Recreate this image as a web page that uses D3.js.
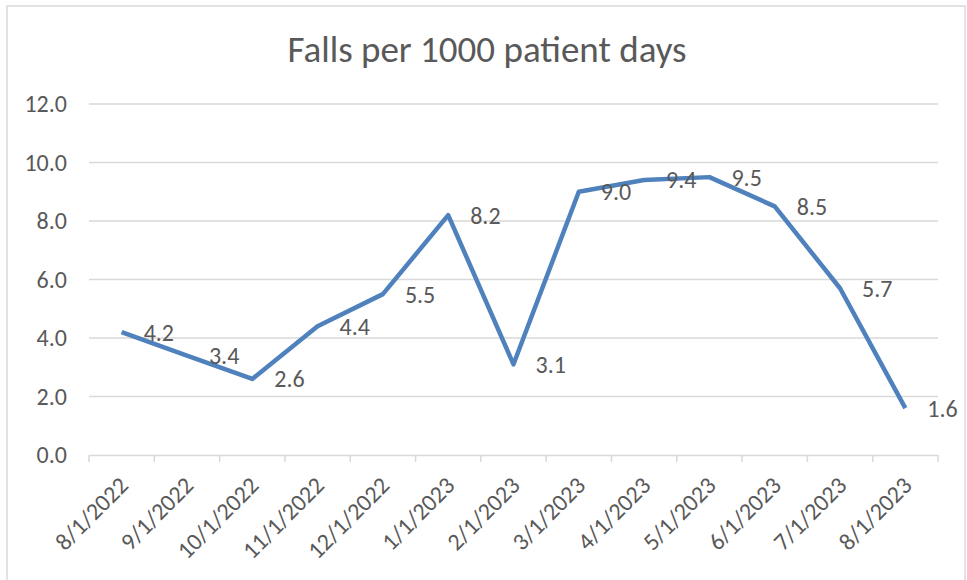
<html>
<head>
<title>falls</title>
<script type="text/javascript" src="https://cdnjs.cloudflare.com/ajax/libs/d3/7.8.5/d3.min.js"></script>
<style>
	body { margin:0px; padding:0px; background:#fff; overflow:hidden; }
	text { font-family: Calibri, Carlito, Lato, sans-serif; fill:#595959; }
</style>
</head>
<body>
<svg id="chart" width="967" height="580"></svg>
<script type="text/javascript">

var months = ['8/1/2022','9/1/2022','10/1/2022','11/1/2022','12/1/2022','1/1/2023','2/1/2023',
	'3/1/2023','4/1/2023','5/1/2023','6/1/2023','7/1/2023','8/1/2023'];
var falls = [4.2, 3.4, 2.6, 4.4, 5.5, 8.2, 3.1, 9.0, 9.4, 9.5, 8.5, 5.7, 1.6];
var yTicks = [0, 2, 4, 6, 8, 10, 12];
var title = 'Falls per 1000 patient days';

var svg = d3.select('#chart');

// outer chart border
svg.append('rect')
	.attr('x', 7).attr('y', 6)
	.attr('width', 958).attr('height', 590)
	.attr('fill', 'none')
	.attr('stroke', '#d9d9d9')
	.attr('stroke-width', 1.5);

var plotLeft = 89, plotRight = 938, plotTop = 104, plotBottom = 455;

var x = d3.scaleBand().domain(months).range([plotLeft, plotRight]);
var y = d3.scaleLinear().domain([0, 12]).range([plotBottom, plotTop]);

svg.append('text')
	.attr('x', 487).attr('y', 62)
	.attr('text-anchor', 'middle')
	.style('font-size', '37px')
	.text(title);

// gridlines
svg.append('g')
	.selectAll('line')
	.data(yTicks.filter(function(d) {return d > 0}))
	.enter()
	.append('line')
	.attr('x1', plotLeft).attr('x2', plotRight)
	.attr('y1', function(d) {return y(d)})
	.attr('y2', function(d) {return y(d)})
	.attr('stroke', '#d9d9d9')
	.attr('stroke-width', 1.5);

// y axis labels
var yAxis = d3.axisLeft(y).tickValues(yTicks).tickFormat(d3.format('.1f')).tickSize(0).tickPadding(22);
var gy = svg.append('g').attr('transform', 'translate(' + plotLeft + ',0)').call(yAxis);
gy.select('.domain').remove();
gy.selectAll('text').style('font-size', '24px').attr('fill', '#595959').attr('dy', '0.33em');

// x axis
var xAxis = d3.axisBottom(x).tickSize(0).tickFormat('');
var gx = svg.append('g').attr('transform', 'translate(0,' + plotBottom + ')').call(xAxis);
gx.select('.domain').attr('stroke', '#d9d9d9').attr('stroke-width', 1.5);
gx.selectAll('.tick').remove();

var bounds = months.map(function(d) {return x(d)}).concat([plotRight]);
svg.append('g')
	.selectAll('line')
	.data(bounds)
	.enter()
	.append('line')
	.attr('x1', function(d) {return d}).attr('x2', function(d) {return d})
	.attr('y1', plotBottom).attr('y2', plotBottom + 7)
	.attr('stroke', '#d9d9d9')
	.attr('stroke-width', 1.5);

svg.append('g')
	.selectAll('text')
	.data(months)
	.enter()
	.append('text')
	.attr('text-anchor', 'end')
	.attr('transform', function(d) {
		return 'translate(' + (x(d) + x.bandwidth()/2 + 2) + ',' + (plotBottom + 26) + ') rotate(-45)';
	})
	.attr('dy', '0.35em')
	.style('font-size', '24px')
	.text(function(d) {return d});

// the line
var line = d3.line()
	.x(function(d, i) {return x(months[i]) + x.bandwidth()/2})
	.y(function(d) {return y(d)});

svg.append('path')
	.datum(falls)
	.attr('d', line)
	.attr('fill', 'none')
	.attr('stroke', '#4f81bd')
	.attr('stroke-width', 4.5)
	.attr('stroke-linejoin', 'round');

// data labels
svg.append('g')
	.selectAll('text')
	.data(falls)
	.enter()
	.append('text')
	.attr('x', function(d, i) {return x(months[i]) + x.bandwidth()/2 + 22})
	.attr('y', function(d) {return y(d)})
	.attr('dy', '0.35em')
	.style('font-size', '24px')
	.attr('fill', '#404040')
	.text(function(d) {return d3.format('.1f')(d)});

</script>
</body>
</html>
